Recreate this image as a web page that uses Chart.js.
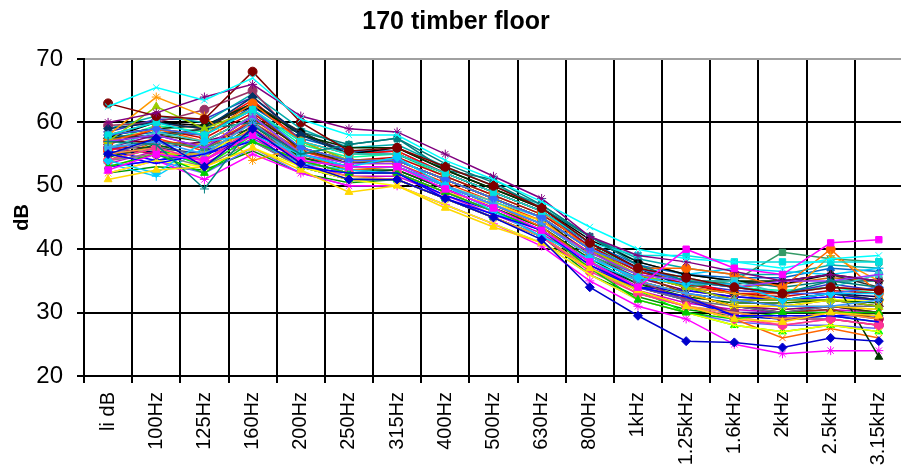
<!DOCTYPE html>
<html lang="en">
<head>
    <meta charset="UTF-8">
    <title>170 timber floor</title>
    <script src="https://cdn.jsdelivr.net/npm/chart.js"></script>
    <style>
        html, body {
            margin: 0;
            padding: 0;
            background: #fff;
            overflow: hidden;
        }
        .chart-container {
            width: 912px;
            height: 476px;
        }
    </style>
</head>
<body>
    <div class="chart-container">
        <canvas id="floorChart" width="912" height="476"></canvas>
    </div>

    <script>
        // Third-octave bands (first column is the single-number rating)
        const bands = ['li dB', '100Hz', '125Hz', '160Hz', '200Hz', '250Hz', '315Hz', '400Hz', '500Hz',
            '630Hz', '800Hz', '1kHz', '1.25kHz', '1.6kHz', '2kHz', '2.5kHz', '3.15kHz'];

        const yTicks = [20, 30, 40, 50, 60, 70];

        const m01 = [55, 57.5, 53, 59, 53.5, 51, 51, 48, 45, 41.5, 34, 29.5, 25.5, 25.3, 24.5, 26, 25.5];
        const m02 = [52.5, 55, 54, 58, 54, 53, 53, 49.5, 46.5, 43, 38, 34, 40, 37, 36, 41, 41.5];
        const m03 = [51, 52.5, 53, 56, 52.5, 49, 50, 46.5, 43.5, 41, 37, 33.5, 31, 29, 28.5, 30, 29.5];
        const m04 = [62.5, 65.5, 63.5, 67, 60.5, 58, 58, 54, 51, 47.5, 43.5, 40, 38.5, 38, 37, 38.5, 39];
        const m05 = [60, 61.5, 64, 66, 61, 59, 58.5, 55, 51.5, 48, 42, 39, 38, 36.5, 35, 36, 35];
        const m06 = [63, 61, 60.5, 68, 60, 55.5, 56, 53, 50, 46.5, 41, 37, 35.5, 34, 33, 34, 33.5];
        const m07 = [57, 56.5, 49.5, 59.5, 55, 56.5, 57.5, 53.5, 50.5, 46.5, 42, 37.5, 35, 34, 33, 35, 34];
        const m08 = [55, 53.5, 55, 58, 53, 52, 52, 48, 45.5, 43, 37.5, 34, 32.5, 29.5, 29.5, 29.5, 28.5];
        const m09 = [54, 52, 57, 58, 55, 53, 54.5, 50, 46, 42, 38.5, 35.5, 34.5, 34.5, 32, 33, 33];
        const m10 = [58, 60, 58, 62, 57, 55, 55, 52, 49, 46, 41, 39, 39, 38, 38, 38, 38];
        const m11 = [53, 55, 52, 57, 54, 52, 52, 49, 46, 43, 37, 32, 30, 29, 30, 30, 30];
        const m12 = [52, 54, 53, 56, 53, 51, 50, 47, 44, 41, 36, 32, 30, 28, 27, 28, 27];
        const m13 = [56, 57, 55, 60, 54, 53, 53, 50, 47, 44, 39, 35, 33, 32, 31, 31, 32];
        const m14 = [54, 56, 54, 59, 54, 52, 52, 49, 46, 42, 36.5, 33, 31, 29, 28, 29, 28];
        const m15 = [57, 58, 56, 61, 55, 53.5, 53.5, 50, 47, 44, 39.5, 36, 35, 34, 35, 35, 36];
        const m16 = [55, 56, 54, 58, 53, 51.5, 51, 48, 45, 42, 37, 33, 31, 30, 29, 30, 29];
        const m17 = [58, 59, 58, 62, 56, 54, 54, 51, 48, 45, 40, 37, 35, 34, 33, 33, 34];
        const m18 = [56, 58.5, 57, 61, 55, 53, 53, 50, 47.5, 45, 40, 37, 35, 35, 33, 34, 36];
        const m19 = [57, 62.5, 59, 62, 57, 54, 54, 51, 48, 45, 40, 36, 34, 32, 32, 32, 31];
        const m20 = [53, 55, 55, 60, 54, 52, 52, 49, 47, 44.5, 39, 35, 33, 31, 31, 31, 30.5];
        const m21 = [58, 64, 61, 54, 56, 54, 54, 51, 48, 45, 40, 36, 34, 33, 32, 39, 35];
        const m22 = [57, 59, 58, 63, 57, 55, 55, 52, 49, 46, 40, 37, 37, 36, 34, 40, 33];
        const m23 = [55, 57, 54, 59, 54, 52, 52, 49, 46, 43, 38, 34, 32, 31, 30, 31, 31];
        const m24 = [54, 55, 53, 57, 53, 51, 51, 48, 45, 42, 37, 33, 31, 30, 29, 30, 30];
        const m25 = [59, 60, 59, 64, 58, 55, 55, 52, 49, 46, 41, 37, 34, 33, 32, 33, 32];
        const m26 = [56, 57, 56, 58.5, 55, 53, 53, 50, 47, 44, 39, 36, 34, 35, 39.5, 38.5, 38];
        const m27 = [58, 59, 59.5, 63, 58, 56, 56, 52.5, 49.5, 46.5, 41, 37, 35, 35, 35, 36, 23];
        const m28 = [57, 58, 57, 61, 56, 53.5, 54, 51, 48, 45, 39, 35, 33, 31, 30, 31, 30];
        const m29 = [58, 59, 58, 62, 55.5, 54, 54, 51, 48, 45, 40, 36, 33, 31, 30, 30.5, 29];
        const m30 = [59.5, 60, 62, 65, 57, 54, 54, 51, 48, 45, 40, 35, 32, 30, 29, 29, 28];
        const m31 = [55, 56, 55, 60, 54, 52, 52, 49, 46, 43, 38, 34, 32, 30, 30, 30, 29.5];
        const m32 = [57.5, 58, 59, 63, 58.5, 55, 55, 52, 49, 46, 41, 37, 35, 34.5, 35, 36, 34];
        const m33 = [57.5, 60, 59.5, 62.5, 58.5, 55, 56, 52.5, 49.5, 46.5, 41.5, 38, 36, 35, 34.5, 36, 35];
        const m34 = [58, 60, 59, 63.5, 57, 55, 55.5, 52, 49, 46, 41, 37, 35, 33, 32, 33, 32];
        const m35 = [54, 56, 53, 58, 53, 51, 51, 48, 45, 42, 37, 33.5, 30, 28, 27, 28, 27];
        const m36 = [53, 54, 55, 57, 53, 51, 51, 48, 45, 42, 37, 34, 33.5, 32.5, 32, 32.5, 32];
        const m37 = [52, 54, 51, 55, 52, 50, 50, 47, 44, 40.5, 35, 31, 29, 25, 23.5, 24, 24];
        const m38 = [54, 56, 55, 59, 54, 52, 52, 49, 46, 43, 38, 34, 32, 31, 31, 32, 32];
        const m39 = [53.5, 51.5, 56, 57, 53.5, 52.5, 52, 49, 46, 43, 38, 35, 36, 37, 36.5, 36, 37];
        const m40 = [56, 58, 56, 60, 55, 53, 53, 50, 47, 44, 39, 35, 33, 31, 30.5, 31, 30];
        const m41 = [57, 57, 56, 61, 56, 54, 54, 51, 48, 45, 40, 36, 34, 32, 31, 32, 31];
        const m42 = [58, 57.5, 59, 60, 58.5, 56.5, 57.5, 52.5, 51, 47, 42, 38, 36, 35, 34, 35, 35];
        const m43 = [55.5, 54, 55.5, 58, 53, 52, 52, 48.5, 46, 43, 38, 34, 32, 29.5, 29, 29.5, 29.5];
        const m44 = [58, 59, 57, 61, 55, 52.5, 53, 50, 47, 43.5, 38, 33.5, 31, 29, 26, 27.5, 26];
        const m45 = [54, 55, 54, 58, 53, 51, 51, 48, 45, 42, 37, 33, 31, 29.5, 28, 29, 28];
        const m46 = [56, 55, 55, 59, 54, 52, 52, 49, 46, 43, 38, 34, 32.5, 30, 29, 30, 29];
        const m47 = [55, 57, 56, 60, 55, 53, 53, 50, 47.5, 44, 39, 35, 33, 31, 30.5, 31, 30.5];
        const m48 = [53, 54, 52, 56, 52, 50, 50, 47, 44, 41, 36, 32, 30, 28.5, 28, 28, 27.5];
        const m49 = [56.5, 59, 57.5, 61.5, 56, 54, 54.5, 51.5, 48.5, 45.5, 40.5, 36.5, 34.5, 33, 32.5, 33.5, 33];
        const m50 = [54.5, 56.5, 54.5, 59.5, 54.5, 52.5, 52.5, 49.5, 46.5, 43.5, 38.5, 34.5, 32.5, 31.5, 31.5, 32, 31.5];
        const m51 = [57.5, 58.5, 58, 62.5, 57.5, 55.5, 55.5, 52, 49, 46, 41, 37.5, 36, 35.5, 35.5, 37, 36.5];
        const m52 = [53.5, 55.5, 53.5, 57.5, 53.5, 51.5, 51.5, 48.5, 45.5, 42.5, 37.5, 33.5, 31.5, 30.5, 30, 30.5, 30];
        const m53 = [59, 61, 60, 64.5, 59, 56, 56.5, 53, 50, 47, 42, 38.5, 37, 36, 36, 37.5, 37];
        const m54 = [55.5, 57.5, 55.5, 60.5, 55.5, 53.5, 53.5, 50.5, 47.5, 44.5, 39.5, 36, 34, 33, 33, 34, 33.5];
        const m55 = [56, 56, 57, 59, 54.5, 53, 53, 50, 47, 44, 39, 35.5, 33.5, 32.5, 32, 32, 31];
        const m56 = [52, 53, 52.5, 55.5, 52, 50.5, 51, 48, 45, 42, 36, 32.5, 30.5, 29.5, 29, 29.5, 28.5];
        const m57 = [58.5, 60.5, 60.5, 64, 58, 55.5, 55, 52, 49, 46, 40.5, 36.5, 34.5, 33.5, 33, 34.5, 33.5];
        const m58 = [54, 57, 56.5, 60, 55.5, 53.5, 54, 51, 48, 45, 40, 36.5, 35, 34, 34.5, 35.5, 35];
        const m59 = [55, 55.5, 54, 58.5, 54, 52, 52.5, 49.5, 46.5, 43.5, 38, 34.5, 33, 32, 32, 33, 32.5];
        const m60 = [57, 59.5, 58.5, 62, 56.5, 54.5, 55, 51.5, 48.5, 45.5, 40.5, 37, 35.5, 34, 33.5, 34, 33];

        const measurements = [m01, m02, m03, m04, m05, m06, m07, m08, m09, m10, m11, m12, m13, m14, m15, m16,
            m17, m18, m19, m20, m21, m22, m23, m24, m25, m26, m27, m28, m29, m30, m31, m32,
            m33, m34, m35, m36, m37, m38, m39, m40, m41, m42, m43, m44, m45, m46, m47, m48,
            m49, m50, m51, m52, m53, m54, m55, m56, m57, m58, m59, m60];

        // old Excel style palette
        const lineColors = ['#0000CC', '#FF00FF', '#FFD800', '#00FFFF', '#800080', '#800000', '#008080', '#0000FF',
            '#00CCFF', '#00E0E0', '#00CC00', '#FFFF00', '#3399FF', '#FF3399', '#9933FF', '#FF9933',
            '#3366FF', '#33CCCC', '#99CC00', '#FFCC00', '#FF9900', '#FF6600', '#666699', '#808080',
            '#003366', '#339966', '#003300', '#333300', '#993300', '#993366', '#333399', '#333333',
            '#000000', '#FF0000', '#00FF00', '#0000FF', '#FF00FF', '#FFFF00', '#00CCFF', '#800080',
            '#800000', '#008080', '#0000FF', '#FF6600', '#FF8080', '#CC0066', '#FFEE00', '#6666FF',
            '#CC0000', '#006600', '#0066CC', '#CC00CC', '#00AAAA', '#FF3300', '#660066', '#009900',
            '#3333CC', '#CC6600', '#000066', '#00FF99'];
        const markerStyles = ['rectRot', 'rect', 'triangle', 'crossRot', 'star', 'circle', 'cross', false];

        function getDataset(values, i) {
            const style = markerStyles[i % markerStyles.length];
            const color = lineColors[i % lineColors.length];
            return {
                label: 'Floor ' + (i + 1),
                data: values,
                borderColor: color,
                backgroundColor: color,
                borderWidth: 1.5,
                pointStyle: style || 'circle',
                pointRadius: style ? 4.5 : 0,
                pointBorderWidth: 1,
                fill: false,
                tension: 0
            };
        }

        const ctx = document.getElementById('floorChart').getContext('2d');
        Chart.defaults.font.family = 'Arial, "Liberation Sans", sans-serif';
        Chart.defaults.color = '#000';

        new Chart(ctx, {
            type: 'line',
            data: {
                labels: bands,
                datasets: measurements.map(getDataset)
            },
            options: {
                responsive: false,
                animation: false,
                devicePixelRatio: 1,
                layout: {
                    padding: { left: 0, right: 0, top: 0, bottom: 0 }
                },
                scales: {
                    x: {
                        offset: true,
                        grid: {
                            offset: true,
                            color: '#000',
                            lineWidth: 2,
                            tickLength: 7,
                            tickColor: '#000'
                        },
                        border: { display: true, color: '#000', width: 2 },
                        ticks: {
                            font: { size: 20 },
                            minRotation: 90,
                            maxRotation: 90,
                            padding: 9,
                            autoSkip: false
                        },
                        afterFit: s => { s.height = 100; }
                    },
                    y: {
                        min: yTicks[0],
                        max: yTicks[yTicks.length - 1],
                        afterBuildTicks: s => { s.ticks = yTicks.map(v => ({ value: v })); },
                        grid: {
                            color: c => (c.tick && c.tick.value === 70 ? '#a0a0a0' : '#000'),
                            lineWidth: 2,
                            tickLength: 7,
                            tickColor: '#000'
                        },
                        border: { display: true, color: '#000', width: 2 },
                        ticks: {
                            font: { size: 24 },
                            padding: 14
                        },
                        title: {
                            display: true,
                            text: 'dB',
                            font: { size: 20, weight: 'bold' },
                            padding: { top: 10, bottom: 0 }
                        },
                        afterFit: s => { s.width = 84; }
                    }
                },
                plugins: {
                    legend: { display: false },
                    tooltip: { enabled: false },
                    title: {
                        display: true,
                        text: '170 timber floor',
                        font: { size: 25, weight: 'bold' },
                        color: '#000',
                        padding: { top: 7, bottom: 22 }
                    }
                }
            }
        });
    </script>
</body>
</html>
